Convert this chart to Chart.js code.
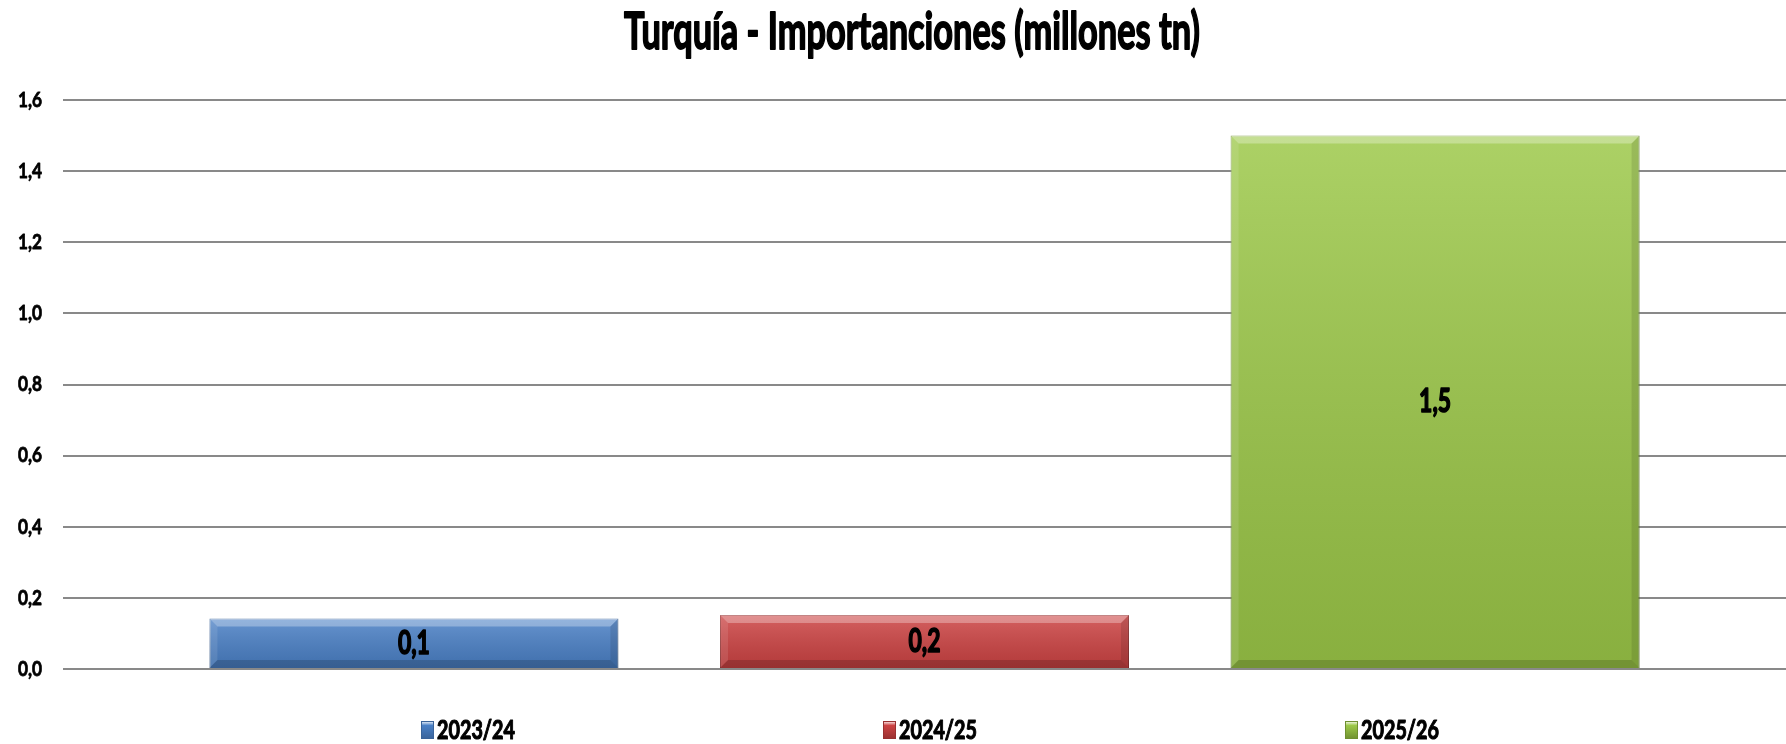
<!DOCTYPE html>
<html>
<head>
<meta charset="utf-8">
<script src="https://cdn.jsdelivr.net/npm/chart.js@4/dist/chart.umd.min.js"></script>
<style>
  html, body { margin: 0; padding: 0; background: #fff; }
  #wrap { width: 1786px; height: 744px; }
</style>
</head>
<body>
<div id="wrap"><canvas id="myChart"></canvas></div>
<script>
var chartTitle = 'Turquía - Importanciones (millones tn)';
var seasons = ["2023/24", "2024/25", "2025/26"];
var imports = [0.142, 0.152, 1.5];
var yMin = 0, yMax = 1.6, yStep = 0.2;

var barColors = ['#4a80c6', '#cd4343', '#9cc848'];
var edgeColors = ['#3a6399', '#983030', '#6f8f30'];
var FONT = 'Lato, "DejaVu Sans", Arial, sans-serif';

function fmt(v) { return v.toFixed(1).replace('.', ','); }

// draw text squeezed horizontally (the original uses a tall narrow heavy face)
function squeezeText(c, text, x, y, size, sx, align, heavy) {
  c.save();
  c.font = 'bold ' + size + 'px ' + FONT;
  c.textAlign = align || 'center';
  c.textBaseline = 'middle';
  c.fillStyle = '#000';
  c.strokeStyle = '#000';
  c.lineJoin = 'round';
  c.lineWidth = heavy || 1;
  c.translate(x, y);
  c.scale(sx, 1);
  c.fillText(text, 0, 0);
  c.strokeText(text, 0, 0);
  c.restore();
}

function fitScale(c, sample, size, target) {
  c.save();
  c.font = 'bold ' + size + 'px ' + FONT;
  var w = c.measureText(sample).width;
  c.restore();
  return target / w;
}

var datasets = seasons.map(function (s, i) {
  return {
    label: s,
    data: [imports[i]],
    backgroundColor: barColors[i],
    borderColor: edgeColors[i],
    borderWidth: 1,
    barPercentage: 0.801,
    categoryPercentage: 0.889
  };
});

// bevel look + value labels on each bar
var barDeco = {
  id: 'barDeco',
  afterDatasetsDraw: function (chart) {
    var c = chart.ctx;
    var sx = fitScale(c, '1,5', 33, 32);
    chart.data.datasets.forEach(function (ds, i) {
      chart.getDatasetMeta(i).data.forEach(function (bar, j) {
        var p = bar.getProps(['x', 'y', 'base', 'width'], true);
        var l = p.x - p.width / 2, r = p.x + p.width / 2, t = p.y, b = p.base;
        var bev = Math.min(8, (b - t) / 3);
        c.save();
        var g = c.createLinearGradient(0, t, 0, b);
        g.addColorStop(0, 'rgba(255,255,255,0.16)');
        g.addColorStop(1, 'rgba(0,0,0,0.12)');
        c.fillStyle = g;
        c.fillRect(l, t, r - l, b - t);
        c.fillStyle = 'rgba(255,255,255,0.3)';
        c.beginPath(); c.moveTo(l, t); c.lineTo(r, t); c.lineTo(r - bev, t + bev); c.lineTo(l + bev, t + bev); c.closePath(); c.fill();
        c.fillStyle = 'rgba(0,0,0,0.16)';
        c.beginPath(); c.moveTo(l, b); c.lineTo(r, b); c.lineTo(r - bev, b - bev); c.lineTo(l + bev, b - bev); c.closePath(); c.fill();
        c.fillStyle = 'rgba(255,255,255,0.1)';
        c.beginPath(); c.moveTo(l, t); c.lineTo(l + bev, t + bev); c.lineTo(l + bev, b - bev); c.lineTo(l, b); c.closePath(); c.fill();
        c.fillStyle = 'rgba(0,0,0,0.1)';
        c.beginPath(); c.moveTo(r, t); c.lineTo(r - bev, t + bev); c.lineTo(r - bev, b - bev); c.lineTo(r, b); c.closePath(); c.fill();
        c.restore();
        squeezeText(c, fmt(ds.data[j]), p.x, (t + b) / 2, 33, sx, 'center', 1.6);
      });
    });
  }
};

// title, y tick labels and the spread-out legend
var texts = {
  id: 'texts',
  afterDraw: function (chart) {
    var c = chart.ctx;
    var tsx = fitScale(c, chartTitle, 51, 576);
    squeezeText(c, chartTitle, 912, 33, 51, tsx, 'center', 1.8);

    var ys = chart.scales.y;
    var ksx = fitScale(c, '1,6', 21, 24);
    ys.ticks.forEach(function (t) {
      squeezeText(c, fmt(t.value), 42, ys.getPixelForValue(t.value), 21, ksx, 'right', 0.8);
    });

    var lsx = fitScale(c, seasons[0], 26, 78);
    var mid = 930, gap = 462, y = 730;
    chart.data.datasets.forEach(function (ds, i) {
      var cx = mid + (i - 1) * gap;
      var x = cx - 47;
      var g = c.createLinearGradient(0, y - 9, 0, y + 9);
      g.addColorStop(0, '#ffffff');
      g.addColorStop(0.25, barColors[i]);
      g.addColorStop(1, edgeColors[i]);
      c.fillStyle = g;
      c.fillRect(x, y - 9, 13, 18);
      c.strokeStyle = edgeColors[i];
      c.lineWidth = 1;
      c.strokeRect(x + 0.5, y - 8.5, 12, 17);
      squeezeText(c, ds.label, x + 16, y + 1, 26, lsx, 'left', 1.1);
    });
  }
};

var ctx = document.getElementById('myChart');
var myChart = new Chart(ctx, {
  type: 'bar',
  data: { labels: [''], datasets: datasets },
  options: {
    responsive: true,
    maintainAspectRatio: false,
    animation: false,
    layout: { padding: { top: 100, right: 0, bottom: 75, left: 0 } },
    plugins: {
      legend: { display: false },
      tooltip: { enabled: false },
      title: { display: false }
    },
    scales: {
      x: { display: false },
      y: {
        min: yMin,
        max: yMax,
        afterFit: function (scale) { scale.width = 63; },
        border: { display: false },
        grid: { color: '#898989', lineWidth: 2, drawTicks: false },
        ticks: { display: false, stepSize: yStep }
      }
    }
  },
  plugins: [barDeco, texts]
});
</script>
</body>
</html>
